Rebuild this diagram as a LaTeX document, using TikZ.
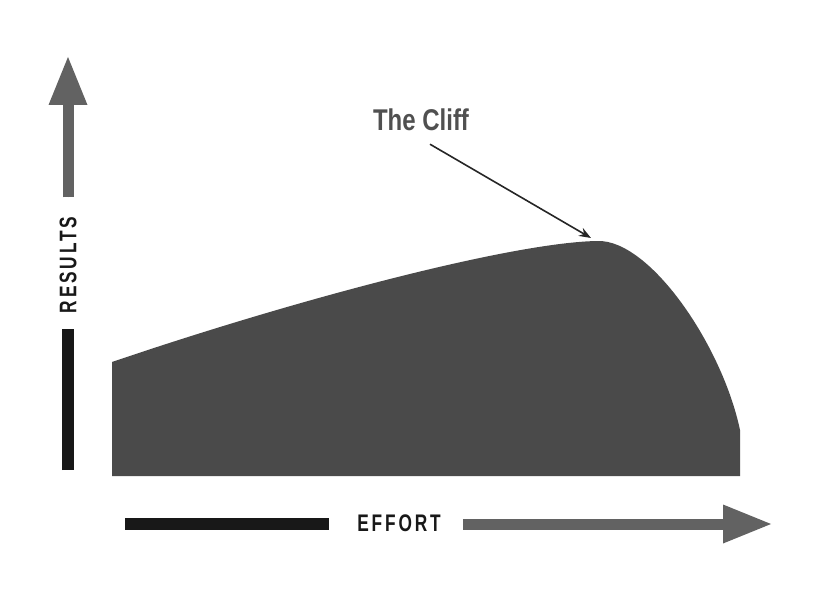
\documentclass[tikz,border=0pt]{standalone}
\usepackage{fontspec}
\usepackage{xcolor}
\usepackage{tikz}
\usetikzlibrary{arrows.meta,positioning}

\newfontfamily\axisfont[FakeStretch=0.72,LetterSpace=12]{Liberation Sans}
\newfontfamily\clifffont[FakeStretch=0.8]{Liberation Sans}

\definecolor{cliffgray}{RGB}{74,74,74}
\definecolor{arrowgray}{RGB}{98,98,98}
\definecolor{barblack}{RGB}{24,24,24}
\definecolor{labelgray}{RGB}{80,80,80}

\tikzset{
	axislabel/.style={font=\axisfont\bfseries\fontsize{24}{30}\selectfont, text=barblack, inner sep=0pt},
	cliffabel/.style={font=\clifffont\bfseries\fontsize{30}{36}\selectfont, text=labelgray, inner sep=0pt},
	axisbar/.style={line width=12pt, draw=barblack},
	axisarrow/.style={line width=11pt, draw=arrowgray, fill=arrowgray, -{Triangle[length=48pt,width=39pt,line width=0pt]}},
	pointer/.style={line width=1.6pt, draw=black!85, -{Stealth[length=12pt,width=9pt]}}
}

\begin{document}
\begin{tikzpicture}[x=1pt,y=-1pt]
		\useasboundingbox (0,0) rectangle (818,612);
		% the cliff
		\fill[cliffgray] (112,362) .. controls (300,298) and (515,242) .. (598,241)
			.. controls (650,240) and (722,345) .. (740,430)
			-- (740,476) -- (112,476) -- cycle;
		%
		\node[axislabel, rotate=90] (res) at (68,265) {RESULTS};
		\node[axislabel] (eff) at (399,523) {EFFORT};
		\node[cliffabel] (cliff) at (421,120) {The Cliff};
		\coordinate (ybot) at (68,470);
		\coordinate (ytop) at (68,57);
		\coordinate (xleft) at (125,524);
		\coordinate (xright) at (771,524);
		\coordinate (peak) at (591,238);
		%
		\draw[axisbar, shorten >=15pt] (ybot) -- (res.west);
		\draw[axisarrow, shorten <=19pt] (res.east) -- (ytop);
		\draw[axisbar, shorten >=28pt] (xleft) -- (eff.west |- xleft);
		\draw[axisarrow, shorten <=22pt] (eff.east |- xright) -- (xright);
		\draw[pointer] ([shift={(9,13)}]cliff.south) -- (peak);
	\end{tikzpicture}
\end{document}
